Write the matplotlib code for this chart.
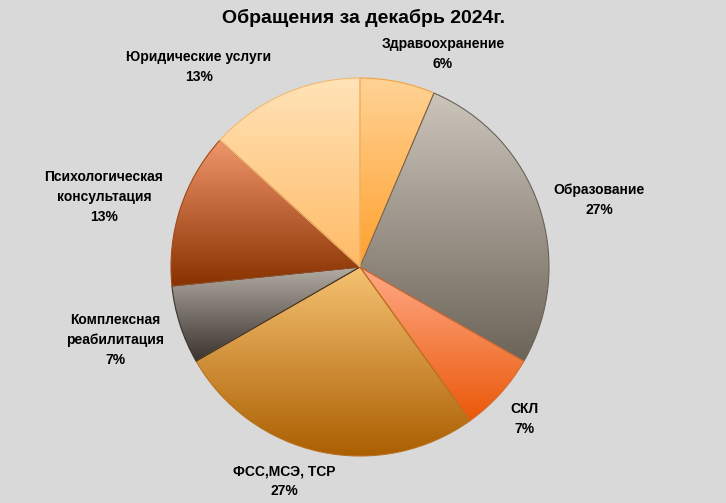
import numpy as np
import matplotlib
matplotlib.use('Agg')
import matplotlib.pyplot as plt
from matplotlib.colors import LinearSegmentedColormap

# data (share of requests, %)
categories = ['Здравоохранение', 'Образование', 'СКЛ', 'ФСС,МСЭ, ТСР',
              'Комплексная\nреабилитация', 'Психологическая\nконсультация',
              'Юридические услуги']
values = [6.4, 26.9, 6.8, 26.6, 6.7, 13.3, 13.3]

# gradient colours per slice (top, bottom)
grad_top = ['#ffd395', '#ccc5bb', '#ffa986', '#f6c272', '#b4ada5', '#f0966c', '#ffe3b8']
grad_bot = ['#ffa02c', '#6d6459', '#ea5808', '#aa5e00', '#3a332e', '#8a3100', '#ffbb66']
edge_cols = ['#f4a040', '#6a6258', '#d86a30', '#b87020', '#3a332e', '#a04a18', '#f4b870']

# label centres in pixels (x, y of first line)
label_px = [(443, 43), (599, 189), (524, 408), (284, 470), (115, 319), (104, 176), (199, 56)]

W, H = 726, 503
cx, cy, R = 360, 267, 189

fig = plt.figure(figsize=(W / 100, H / 100), dpi=100)
fig.patch.set_facecolor('#d9d9d9')
ax = fig.add_axes([(cx - R) / W, (H - cy - R) / H, 2 * R / W, 2 * R / H])
ax.set_facecolor('none')

wedges, _ = ax.pie(values, startangle=90, counterclock=False, radius=1,
                   wedgeprops=dict(linewidth=0.8))

for w, c0, c1, ec in zip(wedges, grad_top, grad_bot, edge_cols):
    verts = w.get_patch_transform().transform(w.get_path().vertices)
    x0, x1 = verts[:, 0].min(), verts[:, 0].max()
    y0, y1 = verts[:, 1].min(), verts[:, 1].max()
    cmap = LinearSegmentedColormap.from_list('g', [c1, c0])
    grad = np.linspace(0, 1, 256).reshape(-1, 1)
    im = ax.imshow(grad, cmap=cmap, extent=[x0, x1, y0, y1], origin='lower',
                   aspect='auto', interpolation='bilinear', zorder=1)
    im.set_clip_path(w)
    w.set_facecolor('none')
    w.set_edgecolor(ec)
    w.set_zorder(2)

ax.set_xlim(-1, 1)
ax.set_ylim(-1, 1)
ax.set_aspect('equal')
ax.axis('off')

font = ['Liberation Sans Narrow', 'Liberation Sans', 'DejaVu Sans']
for name, v, (px, py) in zip(categories, values, label_px):
    txt = name + '\n' + '{:.0f}%'.format(v)
    fig.text(px / W, 1 - (py - 6) / H, txt, ha='center', va='top',
             fontsize=10, fontweight='bold', family=font, linespacing=1.54,
             color='black')

fig.text(0.5, 1 - 18 / H, 'Обращения за декабрь 2024г.', ha='center', va='center',
         fontsize=14, fontweight='bold', family=font, color='black')

fig.savefig('out.png', dpi=100, facecolor=fig.get_facecolor())
